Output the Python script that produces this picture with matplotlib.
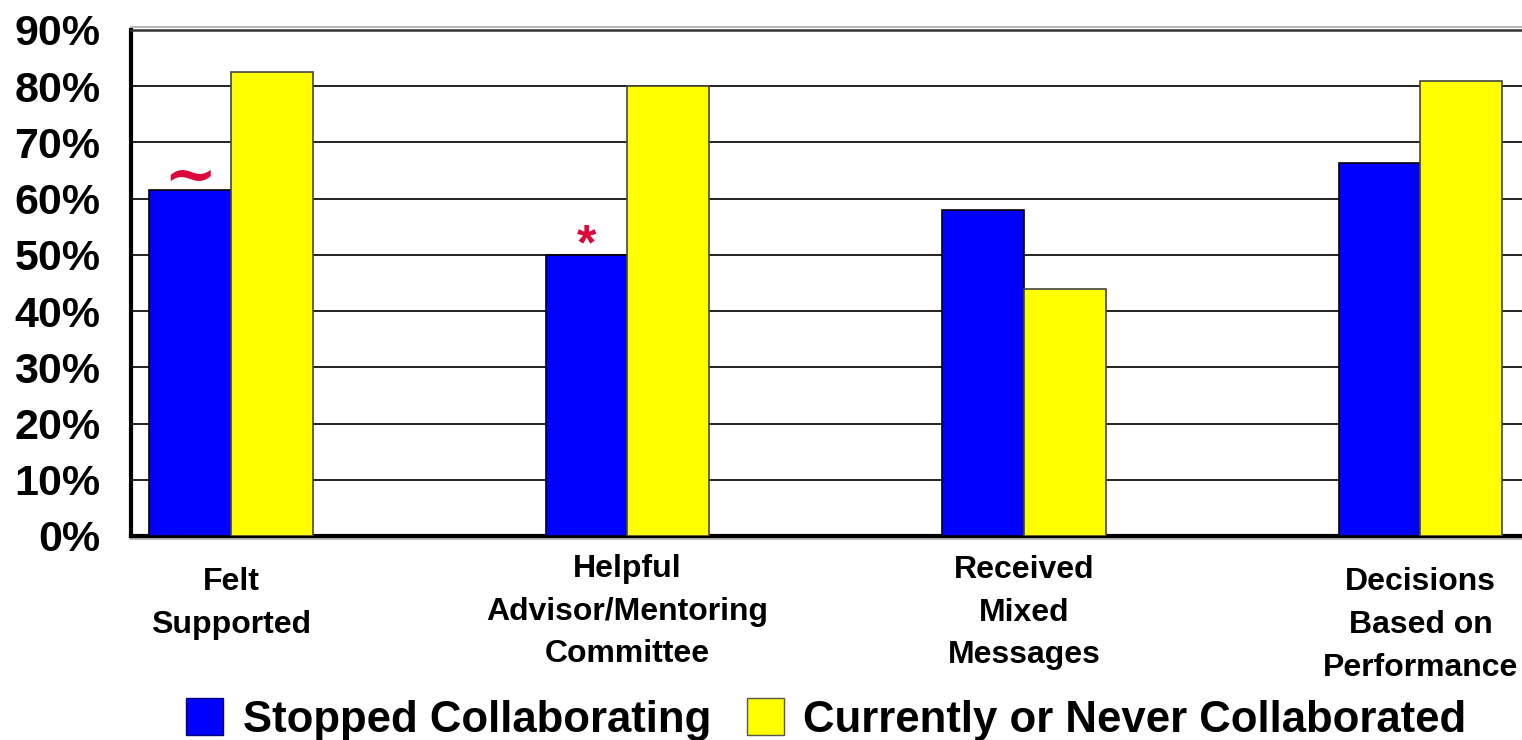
import numpy as np
import matplotlib.pyplot as plt
from matplotlib.patches import Patch
from matplotlib.transforms import blended_transform_factory

plt.rcParams['font.family'] = ['Liberation Sans', 'DejaVu Sans']
plt.rcParams['font.weight'] = 'bold'

categories = [
    'Felt\nSupported',
    'Helpful\nAdvisor/Mentoring\nCommittee',
    'Received\nMixed\nMessages',
    'Decisions\nBased on\nPerformance',
]
stopped = [61.5, 50.0, 58.0, 66.3]
current = [82.5, 80.0, 44.0, 81.0]
series_names = ['Stopped Collaborating', 'Currently or Never Collaborated']
# significance marks over the "stopped" bars
marks = ['~', '*', '', '']
yticks = list(range(0, 91, 10))

fig = plt.figure(figsize=(15.22, 7.40), dpi=100)
ax = fig.add_axes([0.0861, 0.2757, 1 - 0.0861, 0.9595 - 0.2757])

x = np.arange(len(categories))
width = 0.206
ax.bar(x - width / 2, stopped, width, color='#0000ff', edgecolor='black',
       linewidth=1.2, zorder=3)
ax.bar(x + width / 2, current, width, color='#ffff00', edgecolor='#444444',
       linewidth=1.2, zorder=3)

for xi, val, m in zip(x, stopped, marks):
    if m == '~':
        ax.text(xi - width / 2, val - 3.2, m, color='#dc0a3c', fontsize=46,
                ha='center', va='bottom', fontfamily='DejaVu Serif')
    elif m:
        ax.text(xi - width / 2, val - 2.5, m, color='#dc0a3c', fontsize=36,
                ha='center', va='bottom')

ax.set_xlim(-0.252, 3.256)
ax.set_ylim(0, 90)
ax.set_yticks(yticks)
ax.set_yticklabels(['{}%'.format(t) for t in yticks], fontsize=31)
ax.tick_params(axis='y', length=0, pad=22)
ax.set_xticks([])
ax.yaxis.grid(True, color='#222222', linewidth=1.4, zorder=0)
ax.set_axisbelow(True)

for side in ['left', 'bottom']:
    ax.spines[side].set_linewidth(3)
    ax.spines[side].set_color('black')
ax.spines['top'].set_linewidth(1.8)
ax.spines['top'].set_color('#333333')
ax.spines['right'].set_visible(False)
# faint second rule above the plot frame and shadow under the baseline
ax.plot([0, 1], [1.006, 1.006], color='#aaaaaa', linewidth=1.2,
        transform=ax.transAxes, clip_on=False)
ax.plot([0, 1], [-0.006, -0.006], color='#bbbbbb', linewidth=1.5,
        transform=ax.transAxes, clip_on=False)

# category labels sit at slightly different depths below the axis
trans = blended_transform_factory(ax.transData, ax.transAxes)
label_top = [-0.062, -0.035, -0.037, -0.062]
for xi, name, yt in zip(x, categories, label_top):
    ax.text(xi, yt, name, transform=trans, ha='center', va='top',
            fontsize=23, linespacing=1.56)

handles = [Patch(facecolor='#0000ff', edgecolor='#000080'),
           Patch(facecolor='#ffff00', edgecolor='#555555')]
fig.legend(handles, series_names, loc='lower center', ncol=2,
           bbox_to_anchor=(0.543, -0.054), frameon=False, fontsize=31.5,
           handlelength=0.85, handleheight=0.95, handletextpad=0.45,
           columnspacing=0.8)

fig.savefig('out.png', dpi=100)
